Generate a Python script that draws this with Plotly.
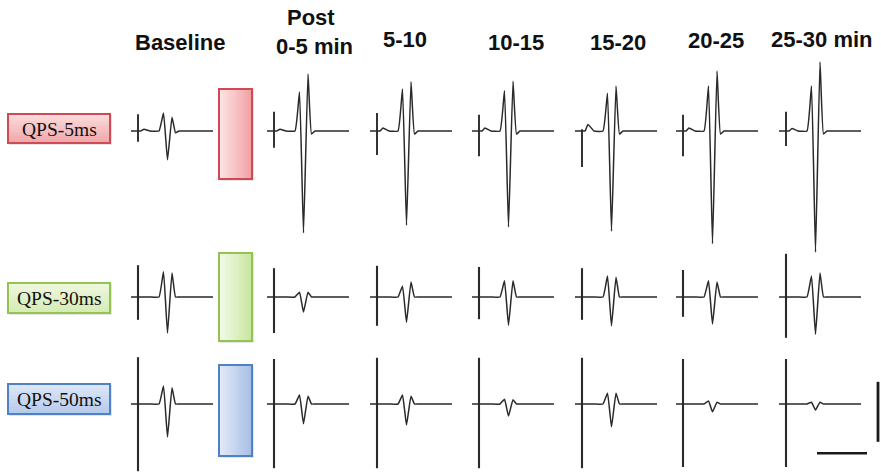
import plotly.graph_objects as go

W, H = 881, 474

# ---------------- data ----------------
col_titles = ["Baseline", "Post", "5-10", "10-15", "15-20", "20-25", "25-30 min"]
col_subtitle = "0-5 min"
row_labels = ["QPS-5ms", "QPS-30ms", "QPS-50ms"]

# stimulus artifact (mV above / below baseline), per row x column
art_up = [[0.28, 0.32, 0.30, 0.27, 0.03, 0.27, 0.32],
          [0.53, 0.48, 0.52, 0.50, 0.48, 0.45, 0.72],
          [0.78, 0.75, 0.77, 0.77, 0.77, 0.75, 0.75]]
art_down = [[0.18, 0.28, 0.40, 0.42, 0.60, 0.42, 0.25],
            [0.38, 0.60, 0.48, 0.37, 0.38, 0.33, 0.68],
            [1.12, 1.07, 1.07, 1.07, 1.07, 1.05, 1.05]]
# MEP components (mV)
peak1 = [[0.30, 0.65, 0.70, 0.67, 0.63, 0.75, 0.75],
         [0.42, 0.08, 0.18, 0.27, 0.35, 0.27, 0.35],
         [0.30, 0.15, 0.15, 0.08, 0.18, 0.05, 0.03]]
trough = [[-0.48, -1.70, -1.57, -1.60, -1.67, -1.88, -2.02],
          [-0.60, -0.25, -0.42, -0.47, -0.48, -0.45, -0.62],
          [-0.55, -0.33, -0.35, -0.20, -0.38, -0.13, -0.10]]
peak2 = [[0.23, 0.95, 0.82, 0.83, 0.75, 1.00, 1.15],
         [0.40, 0.08, 0.25, 0.27, 0.33, 0.25, 0.40],
         [0.27, 0.13, 0.13, 0.07, 0.18, 0.03, 0.03]]
hump = [[0.03, 0.03, 0.05, 0.05, 0.11, 0.05, 0.04],
        [0.00, 0.00, 0.00, 0.00, 0.00, 0.00, 0.00],
        [0.00, 0.00, 0.00, 0.00, 0.00, 0.00, 0.00]]
undershoot = [[-0.03, -0.05, -0.05, -0.05, -0.05, -0.05, -0.05],
              [0.00, 0.00, 0.00, 0.00, 0.00, 0.00, 0.00],
              [0.00, 0.00, 0.00, 0.00, 0.00, 0.00, 0.00]]
# sample times of the traced waveform (ms after stimulus)
t_wave = [-7, 0, 3, 6, 12, 21, 25.5, 29.5, 34, 37.5, 41, 46, 75]

scale_ms = 50
scale_mV = 1.0

# ---------------- layout constants ----------------
PX_PER_MS = 1.0
PX_PER_MV = 60.0
col_x = [138, 274, 377, 479, 582, 683, 786]       # stimulus position (px)
row_base = [131, 297, 404]                        # baseline (px)
row_band = [(45, 268), (243, 346), (346, 474)]    # vertical band (px)
row_colors = [
    dict(left="#fde4e5", right="#f2a2a6", line="#cf4a52"),
    dict(left="#f4fbe8", right="#c9e6a0", line="#93c350"),
    dict(left="#e2eaf8", right="#a8bfe7", line="#4f81c7"),
]
box_x = (219, 252)
box_y = [(89, 179), (253, 341), (365, 456)]
label_x = (8, 110)
label_y = [(114, 143), (283, 313), (384, 414)]
label_fill = [("#fbd9da", "#f0a9ac"), ("#eef7de", "#d6ecb4"), ("#dce6f6", "#b7cbec")]

TRACE = "#2a2a2a"

fig = go.Figure()
layout_axes = {}


def add_axes(k, x0px, x1px, xr, y0px, y1px, yr):
    xa = "xaxis" if k == 1 else f"xaxis{k}"
    ya = "yaxis" if k == 1 else f"yaxis{k}"
    layout_axes[xa] = dict(domain=[x0px / W, x1px / W], range=xr, visible=False,
                           anchor=f"y{k}" if k > 1 else "y", fixedrange=True)
    layout_axes[ya] = dict(domain=[1 - y1px / H, 1 - y0px / H], range=yr, visible=False,
                           anchor=f"x{k}" if k > 1 else "x", fixedrange=True)
    return ("x" if k == 1 else f"x{k}"), ("y" if k == 1 else f"y{k}")


k = 0
for r in range(3):
    top, bot = row_band[r]
    base = row_base[r]
    yr = [-(bot - base) / PX_PER_MV, (base - top) / PX_PER_MV]
    for c in range(7):
        k += 1
        x0 = col_x[c] - 20 * PX_PER_MS
        x1 = col_x[c] + 90 * PX_PER_MS
        xref, yref = add_axes(k, x0, x1, [-20, 90], top, bot, yr)
        v = [0, 0, 0, hump[r][c], 0, 0, peak1[r][c], trough[r][c], peak2[r][c],
             undershoot[r][c], 0, 0, 0]
        fig.add_trace(go.Scatter(x=t_wave, y=v, xaxis=xref, yaxis=yref, mode="lines",
                                 line=dict(color=TRACE, width=1.5, shape="spline", smoothing=0.35),
                                 hoverinfo="skip", showlegend=False))
        fig.add_trace(go.Scatter(x=[0, 0], y=[art_up[r][c], -art_down[r][c]],
                                 xaxis=xref, yaxis=yref, mode="lines",
                                 line=dict(color=TRACE, width=1.9 if r == 0 else 2.1),
                                 hoverinfo="skip", showlegend=False))

# scale bars (same scales as row 3)
k += 1
top, bot = row_band[2]
base = row_base[2]
xref, yref = add_axes(k, 790, 881, [0, 91], top, bot,
                      [-(bot - base) / PX_PER_MV, (base - top) / PX_PER_MV])
fig.add_trace(go.Scatter(x=[27, 27 + scale_ms], y=[-0.82, -0.82], xaxis=xref, yaxis=yref,
                         mode="lines", line=dict(color="#1a1a1a", width=2.5),
                         hoverinfo="skip", showlegend=False))
fig.add_trace(go.Scatter(x=[88, 88], y=[0.37, 0.37 - scale_mV], xaxis=xref, yaxis=yref,
                         mode="lines", line=dict(color="#1a1a1a", width=2.8),
                         hoverinfo="skip", showlegend=False))


def hex2rgb(h):
    h = h.lstrip("#")
    return tuple(int(h[i:i + 2], 16) for i in (0, 2, 4))


def mix(a, b, f):
    ca, cb = hex2rgb(a), hex2rgb(b)
    return "rgb(%d,%d,%d)" % tuple(round(ca[i] + (cb[i] - ca[i]) * f) for i in range(3))


shapes = []
annotations = []
N = 16
for r in range(3):
    col = row_colors[r]
    bx0, bx1 = box_x
    by0, by1 = box_y[r]
    # soft shadow
    shapes.append(dict(type="rect", xref="paper", yref="paper",
                       x0=(bx0 + 1) / W, x1=(bx1 + 2) / W, y0=1 - (by1 + 2) / H, y1=1 - (by0 + 1) / H,
                       line=dict(width=0), fillcolor="rgba(0,0,0,0.10)", layer="below"))
    for i in range(N):
        xa = bx0 + (bx1 - bx0) * i / N
        xb = bx0 + (bx1 - bx0) * (i + 1) / N + 0.5
        shapes.append(dict(type="rect", xref="paper", yref="paper",
                           x0=xa / W, x1=min(xb, bx1) / W, y0=1 - by1 / H, y1=1 - by0 / H,
                           line=dict(width=0), fillcolor=mix(col["left"], col["right"], i / (N - 1)),
                           layer="below"))
    shapes.append(dict(type="rect", xref="paper", yref="paper",
                       x0=bx0 / W, x1=bx1 / W, y0=1 - by1 / H, y1=1 - by0 / H,
                       line=dict(color=col["line"], width=2), fillcolor="rgba(0,0,0,0)",
                       layer="below"))
    # row label box
    lx0, lx1 = label_x
    ly0, ly1 = label_y[r]
    shapes.append(dict(type="rect", xref="paper", yref="paper",
                       x0=(lx0 + 1) / W, x1=(lx1 + 2) / W, y0=1 - (ly1 + 2) / H, y1=1 - (ly0 + 1) / H,
                       line=dict(width=0), fillcolor="rgba(0,0,0,0.10)", layer="below"))
    M = 8
    for i in range(M):
        ya = ly0 + (ly1 - ly0) * i / M
        yb = ly0 + (ly1 - ly0) * (i + 1) / M + 0.5
        shapes.append(dict(type="rect", xref="paper", yref="paper",
                           x0=lx0 / W, x1=lx1 / W, y0=1 - min(yb, ly1) / H, y1=1 - ya / H,
                           line=dict(width=0),
                           fillcolor=mix(label_fill[r][0], label_fill[r][1], i / (M - 1)),
                           layer="below"))
    shapes.append(dict(type="rect", xref="paper", yref="paper",
                       x0=lx0 / W, x1=lx1 / W, y0=1 - ly1 / H, y1=1 - ly0 / H,
                       line=dict(color=col["line"], width=2), fillcolor="rgba(0,0,0,0)",
                       layer="below"))
    annotations.append(dict(text=row_labels[r], xref="paper", yref="paper",
                            x=(lx0 + lx1) / 2 / W, y=1 - (ly0 + ly1 + 1) / 2 / H,
                            xanchor="center", yanchor="middle", showarrow=False,
                            font=dict(family="Liberation Serif, Times New Roman, serif",
                                      size=19.5, color="#111")))

header_pos = [(180, 42), (311, 17), (405, 40), (516, 42), (618, 42), (716, 41), (822, 40)]
for title, (hx, hy) in zip(col_titles, header_pos):
    annotations.append(dict(text=f"<b>{title}</b>", xref="paper", yref="paper",
                            x=hx / W, y=1 - hy / H, xanchor="center", yanchor="middle",
                            showarrow=False,
                            font=dict(family="Liberation Sans, Arial, sans-serif",
                                      size=22, color="#111")))
annotations.append(dict(text=f"<b>{col_subtitle}</b>", xref="paper", yref="paper",
                        x=314 / W, y=1 - 46 / H, xanchor="center", yanchor="middle",
                        showarrow=False,
                        font=dict(family="Liberation Sans, Arial, sans-serif", size=22, color="#111")))

fig.update_layout(width=W, height=H, margin=dict(l=0, r=0, t=0, b=0),
                  paper_bgcolor="white", plot_bgcolor="rgba(0,0,0,0)",
                  shapes=shapes, annotations=annotations, showlegend=False,
                  **layout_axes)

fig.write_html("out.html", config=dict(displayModeBar=False),
               post_script="document.body.style.margin='0px';document.body.style.overflow='hidden';")
